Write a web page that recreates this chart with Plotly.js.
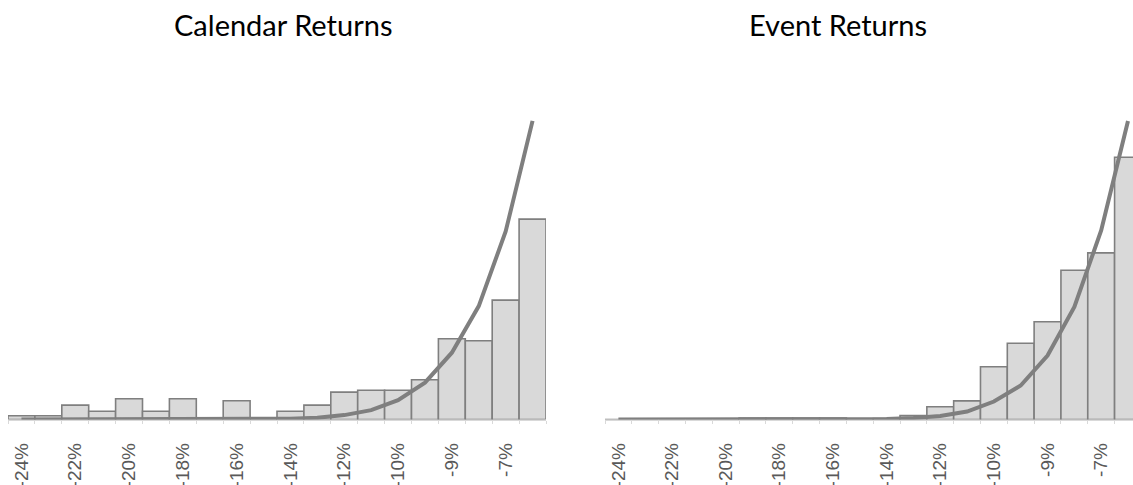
<!DOCTYPE html>
<html>
<head>
<meta charset="utf-8">
<script src="https://cdn.plot.ly/plotly-3.0.1.min.js"></script>
<style>
  html, body { margin: 0; padding: 0; background: #ffffff; }
  #chart { width: 1133px; height: 485px; }
</style>
</head>
<body>
<div id="chart"></div>
<script>
// Tail-return histograms: share of observations per bin (%), with a fitted normal curve.
const binCount = 20;
const tickLabels = ['-24%', '-22%', '-20%', '-18%', '-16%', '-14%', '-12%', '-10%', '-9%', '-7%'];

const calendarFreq = [0.19, 0.19, 0.72, 0.41, 1.04, 0.41, 1.04, 0, 0.94, 0,
                      0.41, 0.72, 1.37, 1.46, 1.46, 1.99, 4.04, 3.94, 5.97, 10.02];
const calendarFit  = [0, 0, 0, 0, 0, 0, 0, 0.002, 0.005, 0.015,
                      0.04, 0.09, 0.22, 0.47, 0.97, 1.84, 3.34, 5.67, 9.4, 14.93];

const eventFreq = [0, 0, 0, 0, 0, 0.07, 0.07, 0.07, 0.07, 0.03,
                   0.05, 0.2, 0.64, 0.93, 2.64, 3.81, 4.89, 7.46, 8.33, 13.11];
const eventFit  = [0, 0, 0, 0, 0, 0, 0, 0.001, 0.004, 0.012,
                   0.03, 0.08, 0.18, 0.4, 0.9, 1.7, 3.2, 5.63, 9.45, 14.93];

const binIndex = Array.from({length: binCount}, (_, i) => i);
const labelIndex = tickLabels.map((_, i) => i * 2);
const binEdges = Array.from({length: binCount + 1}, (_, i) => i - 0.5);

const W = 1133, H = 485;
const grey = '#7f7f7f';
const barFill = '#d9d9d9';

function bars(y, xa, ya) {
  return {
    type: 'bar', x: binIndex, y: y, xaxis: xa, yaxis: ya,
    width: 1,
    marker: { color: barFill, line: { color: grey, width: 1.6 } },
    hoverinfo: 'skip'
  };
}
function fit(y, xa, ya) {
  return {
    type: 'scatter', mode: 'lines', x: binIndex, y: y, xaxis: xa, yaxis: ya,
    line: { color: grey, width: 4 },
    hoverinfo: 'skip'
  };
}

const baseY = 419.5;      // axis line, px from top
const topY = 100;         // top of plotting area, px from top
const pxPerUnit = 20;
const yDomain = [(H - baseY) / H, (H - topY) / H];
const yRange = [0, (baseY - topY) / pxPerUnit];

function xAxis(domain, range) {
  return {
    domain: domain, range: range,
    tickmode: 'array', tickvals: labelIndex, ticktext: tickLabels,
    tickangle: -90, ticks: '',
    ticklabelstandoff: 15,
    tickfont: { family: 'Liberation Sans, Arial, sans-serif', size: 19, color: '#595959' },
    showline: true, linecolor: '#d9d9d9', linewidth: 1,
    showgrid: false, zeroline: false, fixedrange: true,
    minor: { tickmode: 'array', tickvals: binEdges, ticks: 'outside', ticklen: 3, tickcolor: '#d9d9d9', tickwidth: 1, showgrid: false }
  };
}
function yAxis(anchor) {
  return {
    domain: yDomain, range: yRange, anchor: anchor,
    visible: false, showgrid: false, zeroline: false, fixedrange: true
  };
}

const leftPx = [8, 546];
const rightPx = [605, 1133];
const rightUnit = 26.82;

const titleFont = { family: 'Lato, Open Sans, sans-serif', size: 29, color: '#000000' };

const layout = {
  width: W, height: H,
  margin: { l: 0, r: 0, t: 0, b: 0 },
  paper_bgcolor: '#ffffff', plot_bgcolor: '#ffffff',
  showlegend: false, bargap: 0,
  xaxis: xAxis([leftPx[0] / W, leftPx[1] / W], [-0.5, binCount - 0.5]),
  yaxis: yAxis('x'),
  xaxis2: Object.assign(xAxis([rightPx[0] / W, rightPx[1] / W],
                              [-0.5, -0.5 + (rightPx[1] - rightPx[0]) / rightUnit]), { anchor: 'y2' }),
  yaxis2: yAxis('x2'),
  annotations: [
    { text: 'Calendar Returns', xref: 'paper', yref: 'paper', x: 283 / W, y: (H - 24) / H,
      xanchor: 'center', yanchor: 'middle', showarrow: false, font: titleFont },
    { text: 'Event Returns', xref: 'paper', yref: 'paper', x: 838 / W, y: (H - 24) / H,
      xanchor: 'center', yanchor: 'middle', showarrow: false, font: titleFont }
  ]
};
layout.xaxis.anchor = 'y';

Plotly.newPlot('chart', [
  bars(calendarFreq, 'x', 'y'), fit(calendarFit, 'x', 'y'),
  bars(eventFreq, 'x2', 'y2'), fit(eventFit, 'x2', 'y2')
], layout, { staticPlot: true, displayModeBar: false });
</script>
</body>
</html>
